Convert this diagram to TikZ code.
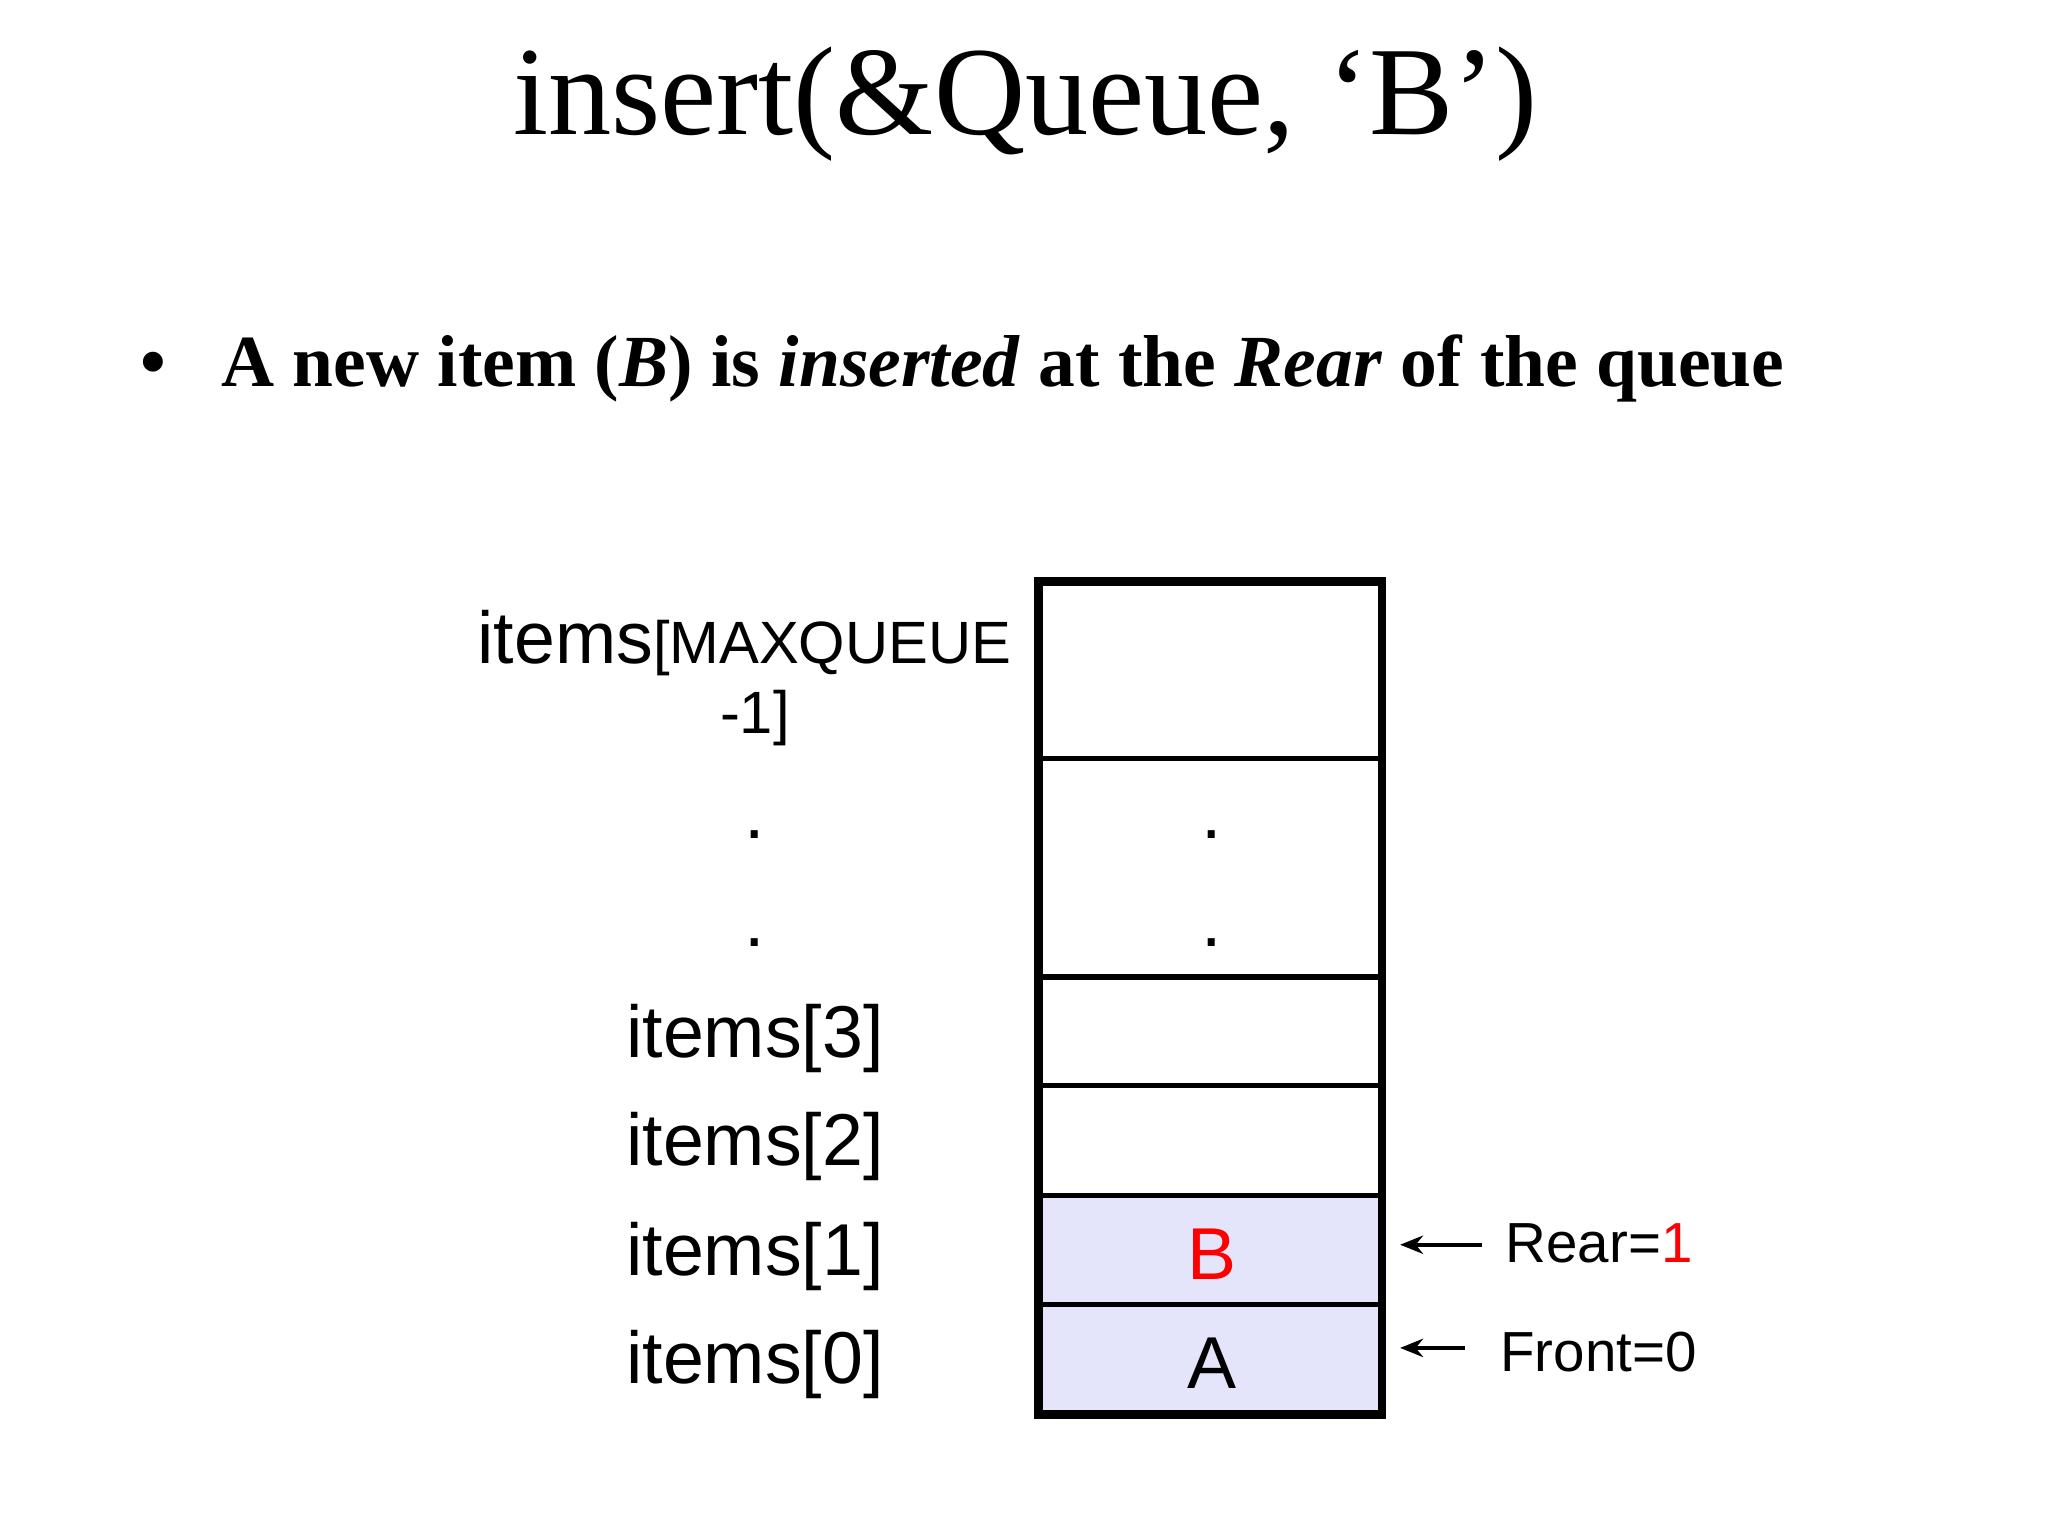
\documentclass[tikz,border=0pt]{standalone}
\usepackage{fontspec}
\usetikzlibrary{arrows.meta}
\setmainfont{Liberation Serif}
\newfontfamily\arial{Liberation Sans}
\definecolor{lav}{HTML}{E4E4FA}
\begin{document}
\begin{tikzpicture}[x=0.01cm,y=-0.01cm,
  lbl/.style={font=\arial\fontsize{16}{19}\selectfont,inner sep=0},
  cell/.style={draw=black,line width=1.1pt},
  arr/.style={-{Stealth[length=5pt,width=4pt]},line width=0.8pt}]
\useasboundingbox[fill=white] (0,0) rectangle (1568,1176);
\node[font=\fontsize{27.5}{32}\selectfont,inner sep=0] (title) at (785,80) {insert(\&Queue, `B')};
\node[font=\bfseries\fontsize{16}{19}\selectfont,inner sep=0,anchor=west] (bul) at (107,282) {\textbullet\hspace{0.75em}A new item (\textit{B}) is \textit{inserted} at the \textit{Rear} of the queue};
% cells
\fill[lav] (795,915) rectangle (1058,1083);
\draw[cell] (795,581) -- (1058,581);
\draw[cell] (795,748) -- (1058,748);
\draw[cell] (795,831) -- (1058,831);
\draw[cell] (795,915) -- (1058,915);
\draw[cell] (795,999) -- (1058,999);
\draw[line width=1.9pt] (795,445) rectangle (1058,1083);
\node[lbl,text=red] (B) at (928,960) {B};
\node[lbl] (A) at (928,1044) {A};
\node[lbl] (d1) at (928,639) {.};
\node[lbl] (d2) at (928,722) {.};
% left labels
\node[lbl,anchor=base east] (mx) at (775,508) {items{\fontsize{13}{16}\selectfont[MAXQUEUE}};
\node[lbl,font=\arial\fontsize{13}{16}\selectfont] (mx2) at (578,550) {-1]};
\node[lbl] (l1) at (578,639) {.};
\node[lbl] (l2) at (578,722) {.};
\node[lbl] (i3) at (578,795) {items[3]};
\node[lbl] (i2) at (578,878) {items[2]};
\node[lbl] (i1) at (578,962) {items[1]};
\node[lbl] (i0) at (578,1045) {items[0]};
% pointers
\node[lbl,anchor=west,font=\arial\fontsize{12.3}{15}\selectfont] (rear) at (1152,952) {Rear=\textcolor{red}{1}};
\node[lbl,anchor=west,font=\arial\fontsize{12.3}{15}\selectfont] (front) at (1148,1035) {Front=0};
\coordinate (ra) at (1072,953);
\coordinate (fa) at (1072,1032);
\draw[arr] (1135,953) -- (ra);
\draw[arr] (1122,1032) -- (fa);
\end{tikzpicture}
\end{document}
